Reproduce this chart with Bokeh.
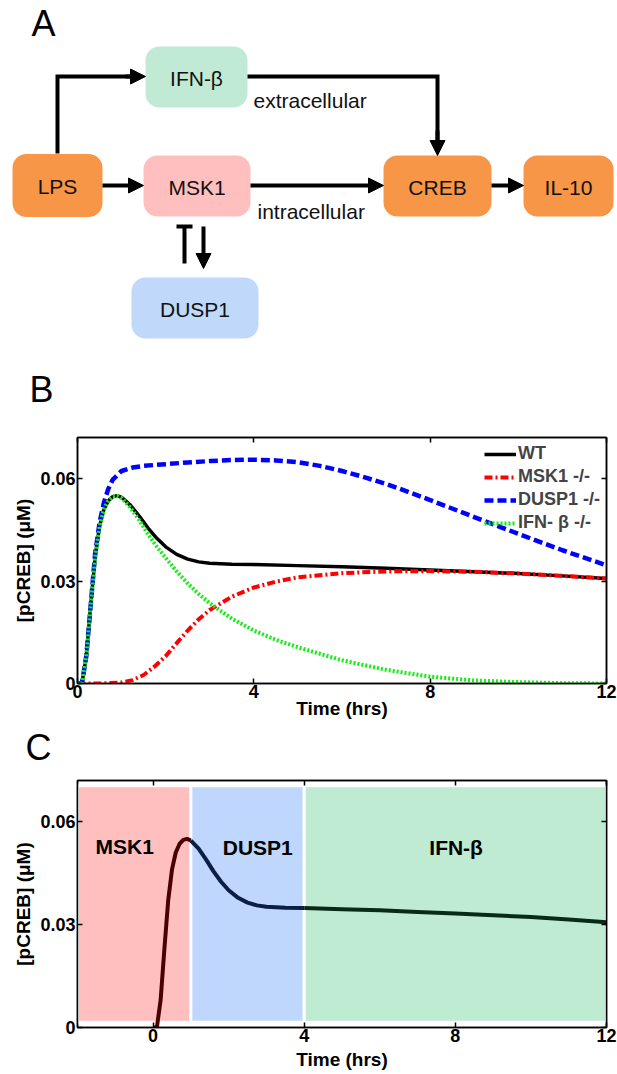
import numpy as np
from bokeh.plotting import figure
from bokeh.layouts import column
from bokeh.models import (Range1d, FixedTicker, LinearAxis, Legend, LegendItem,
                          Arrow, NormalHead)
from bokeh.core.properties import value
from bokeh.embed import file_html
from bokeh.resources import INLINE

FONT = "Liberation Sans"

# ---------------- data ----------------
t_wt = [0, 0.1, 0.2, 0.3, 0.4, 0.5, 0.6, 0.7, 0.8, 0.9, 1.0, 1.2, 1.4, 1.6, 1.8,
        2.0, 2.25, 2.5, 2.75, 3.0, 3.5, 4, 5, 6, 7, 8, 9, 10, 11, 12]
wt = [0, 0, 0.008, 0.023, 0.037, 0.046, 0.051, 0.0535, 0.0547, 0.055, 0.0545,
      0.0522, 0.049, 0.0455, 0.0425, 0.040, 0.0378, 0.0364, 0.0356, 0.0352,
      0.0349, 0.0348, 0.0345, 0.0342, 0.0337, 0.0332, 0.0327, 0.0322, 0.0315, 0.0307]

t_msk = [0, 0.5, 1.0, 1.25, 1.5, 1.75, 2.0, 2.25, 2.5, 2.75, 3.0, 3.5, 4, 4.5,
         5, 6, 7, 8, 9, 10, 11, 12]
msk = [0, 0, 0.0003, 0.001, 0.0025, 0.005, 0.008, 0.0118, 0.0155, 0.0188, 0.0215,
       0.0254, 0.0281, 0.0298, 0.0311, 0.0323, 0.0328, 0.0329, 0.0327, 0.0322,
       0.0315, 0.0307]

t_dusp = [0, 0.1, 0.2, 0.3, 0.4, 0.5, 0.6, 0.7, 0.8, 1.0, 1.25, 1.5, 2, 2.5, 3,
          3.5, 4, 4.5, 5, 5.5, 6, 6.5, 7, 7.5, 8, 9, 10, 11, 12]
dusp = [0, 0, 0.008, 0.023, 0.038, 0.047, 0.053, 0.057, 0.0597, 0.0622, 0.0632,
        0.0637, 0.0642, 0.0647, 0.0651, 0.0654, 0.0655, 0.0653, 0.0648, 0.0637,
        0.0622, 0.0604, 0.0584, 0.0561, 0.0537, 0.0487, 0.0438, 0.0390, 0.0346]

t_ifn = [0, 0.1, 0.2, 0.3, 0.4, 0.5, 0.6, 0.7, 0.8, 0.9, 1.0, 1.2, 1.4, 1.6, 1.8,
         2.0, 2.25, 2.5, 2.75, 3.0, 3.5, 4, 4.5, 5, 6, 7, 8, 9, 10, 11, 12]
ifn = [0, 0, 0.008, 0.023, 0.037, 0.046, 0.051, 0.0535, 0.0547, 0.0549, 0.0543,
       0.0515, 0.0478, 0.0437, 0.0400, 0.0368, 0.0328, 0.0293, 0.0262, 0.0235,
       0.0190, 0.0155, 0.0128, 0.0106, 0.0068, 0.0040, 0.0020, 0.0009, 0.0004,
       0.0001, 0]

x_ticks = [0, 4, 8, 12]
y_ticks = [0, 0.03, 0.06]
y_tick_labels = ["0", "0.03", "0.06"]
legend_labels = ["WT", "MSK1 -/-", "DUSP1 -/-", "IFN- \u03b2 -/-"]
x_label = "Time (hrs)"
y_label = "[pCREB] (\u03bcM)"

phase_names = ["MSK1", "DUSP1", "IFN-\u03b2"]
phase_start = [-2, 1, 4]
phase_end = [1, 4, 12]
phase_low = [0.0015, 0.0015, 0.0015]
phase_high = [0.0705, 0.0705, 0.0705]

node_names = ["IFN-\u03b2", "LPS", "MSK1", "CREB", "IL-10", "DUSP1"]

# ---------------- styles / layout ----------------
node_cx = [196, 57, 196.5, 437, 568, 194.5]
node_cy = [76.5, 185, 185.5, 185.5, 185.5, 307.5]
node_w = [102, 90, 107, 108, 90, 127]
node_h = [61, 63, 61, 61, 61, 61]
node_col = ["#c1ead6", "#f79646", "#ffbfbf", "#f79646", "#f79646", "#c0d9fb"]

phase_colors = ["#ffbfbf", "#bfd7fc", "#bfebd3"]
curve_colors = ["#4a0000", "#0b1f45", "#0a2a18"]
phase_lab_x = [-0.75, 2.77, 8.02]
phase_lab_y = [0.0527, 0.0525, 0.0525]

W = 617


def blank_canvas(height, y0):
    p = figure(width=W, height=height, x_range=Range1d(0, W),
               y_range=Range1d(y0 + height, y0), output_backend="svg",
               toolbar_location=None, min_border=0)
    p.frame_align = False
    p.xaxis.visible = False
    p.yaxis.visible = False
    p.grid.visible = False
    p.outline_line_color = None
    return p


def letter(p, x, y, s):
    p.text(x=[x], y=[y], text=[s], text_align="left", text_baseline="middle",
           text_font=value(FONT), text_font_size="36px", text_color="black")


# ---------------- panel A: diagram (page pixels) ----------------
pa = blank_canvas(420, 0)

pa.rect(x=node_cx, y=node_cy, width=node_w, height=node_h, fill_color=node_col,
        line_color=None, border_radius=14)
pa.text(x=node_cx, y=[c + 1 for c in node_cy], text=node_names, text_align="center",
        text_baseline="middle", text_font=value(FONT), text_font_size="21px",
        text_color="#111111")

pa.multi_line(xs=[[57, 57, 130], [247, 437, 437]], ys=[[153, 76, 76], [76, 76, 140]],
              line_color="black", line_width=4, line_join="miter")
pa.multi_line(xs=[[184, 184], [176, 192]], ys=[[263, 226], [226, 226]],
              line_color="black", line_width=4)

arrows = [((125, 76), (145, 76)), ((437, 130), (437, 155)), ((102, 185), (143, 185)),
          ((250, 185), (383, 185)), ((491, 185), (523, 185)), ((203, 226), (203, 268))]
for (x0, y0), (x1, y1) in arrows:
    pa.add_layout(Arrow(end=NormalHead(size=15, fill_color="black", line_color="black",
                                       line_width=1),
                        x_start=x0, y_start=y0, x_end=x1, y_end=y1,
                        line_width=4, line_color="black"))

pa.text(x=[253, 257], y=[100, 210.5], text=["extracellular", "intracellular"],
        text_align="left", text_baseline="middle", text_font=value(FONT),
        text_font_size="21px", text_color="#111111")
letter(pa, 31, 22.5, "A")
letter(pa, 29, 388.5, "B")


def style_plot(p, xlabel_standoff):
    p.frame_align = False
    p.grid.visible = False
    p.outline_line_color = "black"
    p.outline_line_width = 1.5
    p.xaxis.ticker = FixedTicker(ticks=x_ticks)
    p.yaxis.ticker = FixedTicker(ticks=y_ticks)
    p.yaxis.major_label_overrides = {v: s for v, s in zip(y_ticks, y_tick_labels)}
    for ax in (p.xaxis[0], p.yaxis[0]):
        ax.major_tick_in = 5
        ax.major_tick_out = 0
        ax.minor_tick_line_color = None
        ax.axis_line_width = 1.5
        ax.major_tick_line_width = 1.5
        ax.major_label_text_font = FONT
        ax.major_label_text_font_style = "bold"
        ax.major_label_text_font_size = "18px"
        ax.major_label_text_color = "black"
        ax.axis_label_text_font = FONT
        ax.axis_label_text_font_style = "bold"
        ax.axis_label_text_font_size = "19px"
        ax.axis_label_text_color = "black"
    p.xaxis.major_label_standoff = 1
    p.yaxis.major_label_standoff = 2
    p.xaxis.axis_label = x_label
    p.xaxis.axis_label_standoff = xlabel_standoff
    p.yaxis.axis_label = y_label
    p.yaxis.axis_label_standoff = 3
    common = dict(major_label_text_font_size="1px", major_tick_in=5, major_tick_out=0,
                  major_label_standoff=0, axis_label_standoff=0,
                  minor_tick_line_color=None, axis_line_width=1.5,
                  major_tick_line_width=1.5)
    top = LinearAxis(ticker=FixedTicker(ticks=x_ticks),
                     major_label_overrides={v: "" for v in x_ticks}, **common)
    right = LinearAxis(ticker=FixedTicker(ticks=y_ticks),
                       major_label_overrides={v: "" for v in y_ticks}, **common)
    p.add_layout(top, "above")
    p.add_layout(right, "right")


# ---------------- panel B ----------------
pb = figure(width=W, height=303, x_range=Range1d(0, 12), y_range=Range1d(0, 0.072),
            output_backend="svg", toolbar_location=None, min_border_left=77,
            min_border_right=11, min_border_top=17, min_border_bottom=40)
style_plot(pb, -3)

r_wt = pb.line(t_wt, wt, line_color="black", line_width=3.5)
r_msk = pb.line(t_msk, msk, line_color="#ff0000", line_width=4, line_dash="8 3 2 3")
r_dusp = pb.line(t_dusp, dusp, line_color="#0000ff", line_width=4.5, line_dash="9 4")
r_ifn = pb.line(t_ifn, ifn, line_color="#11ee11", line_width=4, line_dash="2 2")

legend = Legend(items=[LegendItem(label=l, renderers=[r]) for l, r in
                       zip(legend_labels, [r_wt, r_msk, r_dusp, r_ifn])],
                location="top_right", label_text_font=FONT, label_text_font_style="bold",
                label_text_font_size="18px", glyph_width=32, glyph_height=20,
                label_height=20, label_standoff=2, spacing=2, padding=4, margin=6,
                border_line_color=None, background_fill_alpha=0)
pb.add_layout(legend)

# ---------------- letter C strip ----------------
plc = blank_canvas(53, 723)
letter(plc, 25, 746.5, "C")

# ---------------- panel C ----------------
pc = figure(width=W, height=298, x_range=Range1d(-2, 12), y_range=Range1d(0, 0.072),
            output_backend="svg", toolbar_location=None, min_border_left=77,
            min_border_right=11, min_border_top=4, min_border_bottom=47)
style_plot(pc, 4)

pc.quad(left=phase_start, right=phase_end, bottom=phase_low, top=phase_high,
        fill_color=phase_colors, line_color="white", line_width=3)
pc.text(x=phase_lab_x, y=phase_lab_y, text=phase_names, text_align="center",
        text_baseline="middle", text_font=value(FONT), text_font_style="bold",
        text_font_size="21px", text_color="black")

t_arr = np.array(t_wt)
v_arr = np.array(wt)
for s, e, c in zip(phase_start, phase_end, curve_colors):
    m = (t_arr >= s) & (t_arr <= e)
    if m.sum() > 1:
        pc.line(t_arr[m], v_arr[m], line_color=c, line_width=4)

layout = column(pa, pb, plc, pc, spacing=0)
open("out.html", "w").write(file_html(layout, INLINE))
